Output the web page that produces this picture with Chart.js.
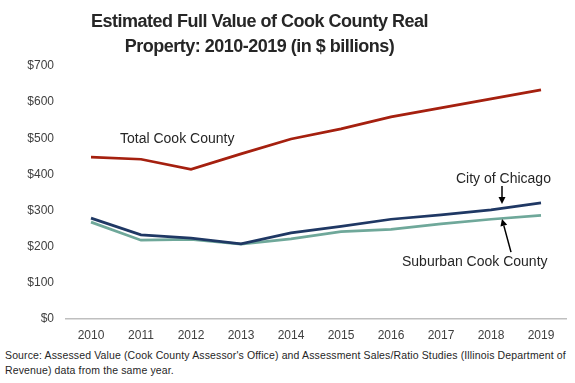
<!DOCTYPE html>
<html>
<head>
<meta charset="utf-8">
<script src="https://cdn.jsdelivr.net/npm/chart.js@4"></script>
<style>
  html, body { margin: 0; padding: 0; background: #ffffff; }
  body { width: 575px; height: 383px; position: relative; overflow: hidden; font-family: "Liberation Sans", Arial, sans-serif; }
  #title { position: absolute; left: 0; top: 9px; width: 519px; text-align: center; font-weight: bold; font-size: 18px; line-height: 25px; color: #262626; letter-spacing: -0.5px; }
  #wrap { position: absolute; left: 0; top: 0; width: 575px; height: 345px; }
  #source { position: absolute; left: 5px; top: 348px; width: 570px; font-size: 10.5px; line-height: 15px; color: #262626; letter-spacing: 0.13px; }
</style>
</head>
<body>
<div id="wrap"><canvas id="c"></canvas></div>
<div id="title">Estimated Full Value of Cook County Real<br>Property: 2010-2019 (in $ billions)</div>
<div id="source">Source: Assessed Value (Cook County Assessor's Office) and Assessment Sales/Ratio Studies (Illinois Department of Revenue) data from the same year.</div>
<script>
const years = ["2010","2011","2012","2013","2014","2015","2016","2017","2018","2019"];
const totalCook = [448, 442, 414, 457, 498, 526, 559, 584, 609, 634];
const chicago = [279, 233, 224, 208, 238, 256, 276, 288, 302, 321];
const suburban = [268, 218, 220, 207, 222, 242, 248, 263, 276, 287];
const yTicks = [0, 100, 200, 300, 400, 500, 600, 700];

// annotation labels: [text, x (category index), y (value)]
const labelText = ["Total Cook County", "City of Chicago", "Suburban Cook County"];
const labelX = [0.58, 7.3, 6.22];
const labelY = [499, 386, 157];
// arrows: from (x,y) to (x,y) in category index / value
const arrowFromX = [8.22, 8.4];
const arrowFromY = [368, 185];
const arrowToX = [8.22, 8.22];
const arrowToY = [318, 277];

const annot = {
  id: 'annot',
  afterDatasetsDraw(chart) {
    const ctx = chart.ctx, xs = chart.scales.x, ys = chart.scales.y;
    ctx.save();
    ctx.font = '14px "Liberation Sans", Arial, sans-serif';
    ctx.fillStyle = '#262626';
    ctx.textBaseline = 'middle';
    ctx.textAlign = 'left';
    for (let i = 0; i < labelText.length; i++) {
      ctx.fillText(labelText[i], xs.getPixelForValue(labelX[i]), ys.getPixelForValue(labelY[i]));
    }
    ctx.strokeStyle = '#000000';
    ctx.fillStyle = '#000000';
    ctx.lineWidth = 1.5;
    for (let i = 0; i < arrowFromX.length; i++) {
      const x1 = xs.getPixelForValue(arrowFromX[i]), y1 = ys.getPixelForValue(arrowFromY[i]);
      const x2 = xs.getPixelForValue(arrowToX[i]), y2 = ys.getPixelForValue(arrowToY[i]);
      const a = Math.atan2(y2 - y1, x2 - x1);
      const hl = 7, hw = 3.5;
      const bx = x2 - hl * Math.cos(a), by = y2 - hl * Math.sin(a);
      ctx.beginPath(); ctx.moveTo(x1, y1); ctx.lineTo(bx, by); ctx.stroke();
      ctx.beginPath();
      ctx.moveTo(x2, y2);
      ctx.lineTo(bx + hw * Math.sin(a), by - hw * Math.cos(a));
      ctx.lineTo(bx - hw * Math.sin(a), by + hw * Math.cos(a));
      ctx.closePath(); ctx.fill();
    }
    ctx.restore();
  }
};

new Chart(document.getElementById('c'), {
  type: 'line',
  data: {
    labels: years,
    datasets: [
      { label: 'Total Cook County', data: totalCook, borderColor: '#a5200f', borderWidth: 2.75, pointRadius: 0, tension: 0 },
      { label: 'City of Chicago', data: chicago, borderColor: '#1f3864', borderWidth: 2.75, pointRadius: 0, tension: 0 },
      { label: 'Suburban Cook County', data: suburban, borderColor: '#6fa89a', borderWidth: 2.75, pointRadius: 0, tension: 0 }
    ]
  },
  options: {
    responsive: true,
    maintainAspectRatio: false,
    animation: false,
    events: [],
    layout: { padding: { top: 66, right: 9, bottom: 0, left: 0 } },
    plugins: { legend: { display: false }, title: { display: false }, tooltip: { enabled: false } },
    scales: {
      x: {
        offset: true,
        grid: { display: false, drawTicks: false },
        border: { display: true, color: '#bfbfbf', width: 1.5 },
        ticks: { font: { family: '"Liberation Sans", Arial, sans-serif', size: 12 }, color: '#404040', padding: 9, maxRotation: 0 },
        afterFit(s) { s.height = 26; }
      },
      y: {
        min: 0, max: 700,
        afterBuildTicks(s) { s.ticks = yTicks.map(v => ({ value: v })); },
        grid: { display: false, drawTicks: false },
        border: { display: false },
        ticks: { font: { family: '"Liberation Sans", Arial, sans-serif', size: 12 }, color: '#404040', padding: 12, callback: v => '$' + v },
        afterFit(s) { s.width = 66; }
      }
    }
  },
  plugins: [annot]
});
</script>
</body>
</html>
